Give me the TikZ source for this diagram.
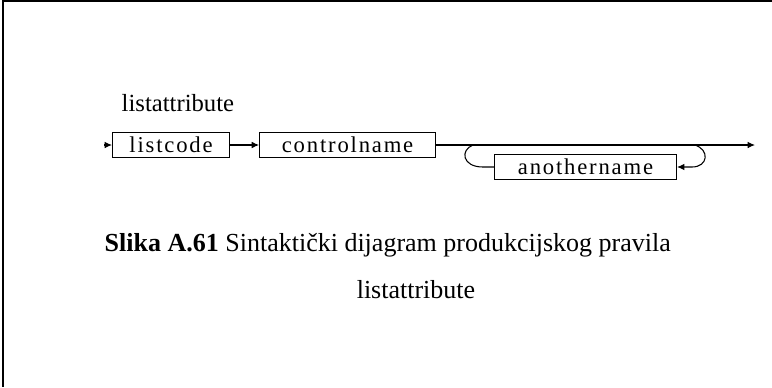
\documentclass[tikz,border=0pt]{standalone}
\usepackage{fontspec}
\setmainfont{Liberation Serif}
\newfontfamily\boxfont[LetterSpace=8]{Liberation Serif}
\usetikzlibrary{positioning,arrows.meta,calc}
\tikzset{
  term/.style={draw, line width=0.8pt, inner sep=0pt, minimum height=18.5pt,
               font=\boxfont\fontsize{17}{18}\selectfont},
  flow/.style={line width=0.8pt},
  flowarr/.style={flow, -{Latex[length=5.5pt,width=5pt]}},
  frame/.style={line width=1.5pt},
  rulename/.style={font=\fontsize{18.5}{20}\selectfont, anchor=base west},
  caption/.style={font=\fontsize{19.5}{22}\selectfont}
}

\begin{document}
\begin{tikzpicture}[x=0.75pt, y=0.75pt, node distance=21.75pt]
  \useasboundingbox (0,0) rectangle (772,-387);
  % frame
  \draw[frame] (3,0) -- (3,-387);
  \draw[frame] (3,-1) -- (772,-1);
  % rule name
  \node[rulename] (name) at (117,-111) {listattribute};
  % main line
  \coordinate (start) at (104,-145);
  \node[term, minimum width=87.75pt, anchor=west] (lc) at (112,-145) {listcode};
  \node[term, minimum width=132pt, right=of lc] (cn) {controlname};
  \coordinate (stop) at (755,-145);
  \draw[flowarr] (start) -- (lc);
  \draw[flowarr] (lc) -- (cn);
  \draw[flowarr] (cn) -- (stop);
  % repetition
  \node[term, minimum width=136.5pt, anchor=west] (an) at (494,-167) {anothername};
  \coordinate (lj) at (473,-145);
  \coordinate (rj) at (695,-145);
  \draw[flow] (lj) .. controls (460,-150) and (462,-167) .. (483,-167) -- (an.west);
  \draw[flowarr] (rj) .. controls (710,-150) and (708,-167) .. (692,-167) -- (an.east);
  % caption
  \node[caption, anchor=base west] (cap) at (100,-251)
    {\textbf{Slika A.61} Sintaktički dijagram produkcijskog pravila};
  \node[caption, anchor=base] (cap2) at (416,-298) {listattribute};
\end{tikzpicture}
\end{document}
